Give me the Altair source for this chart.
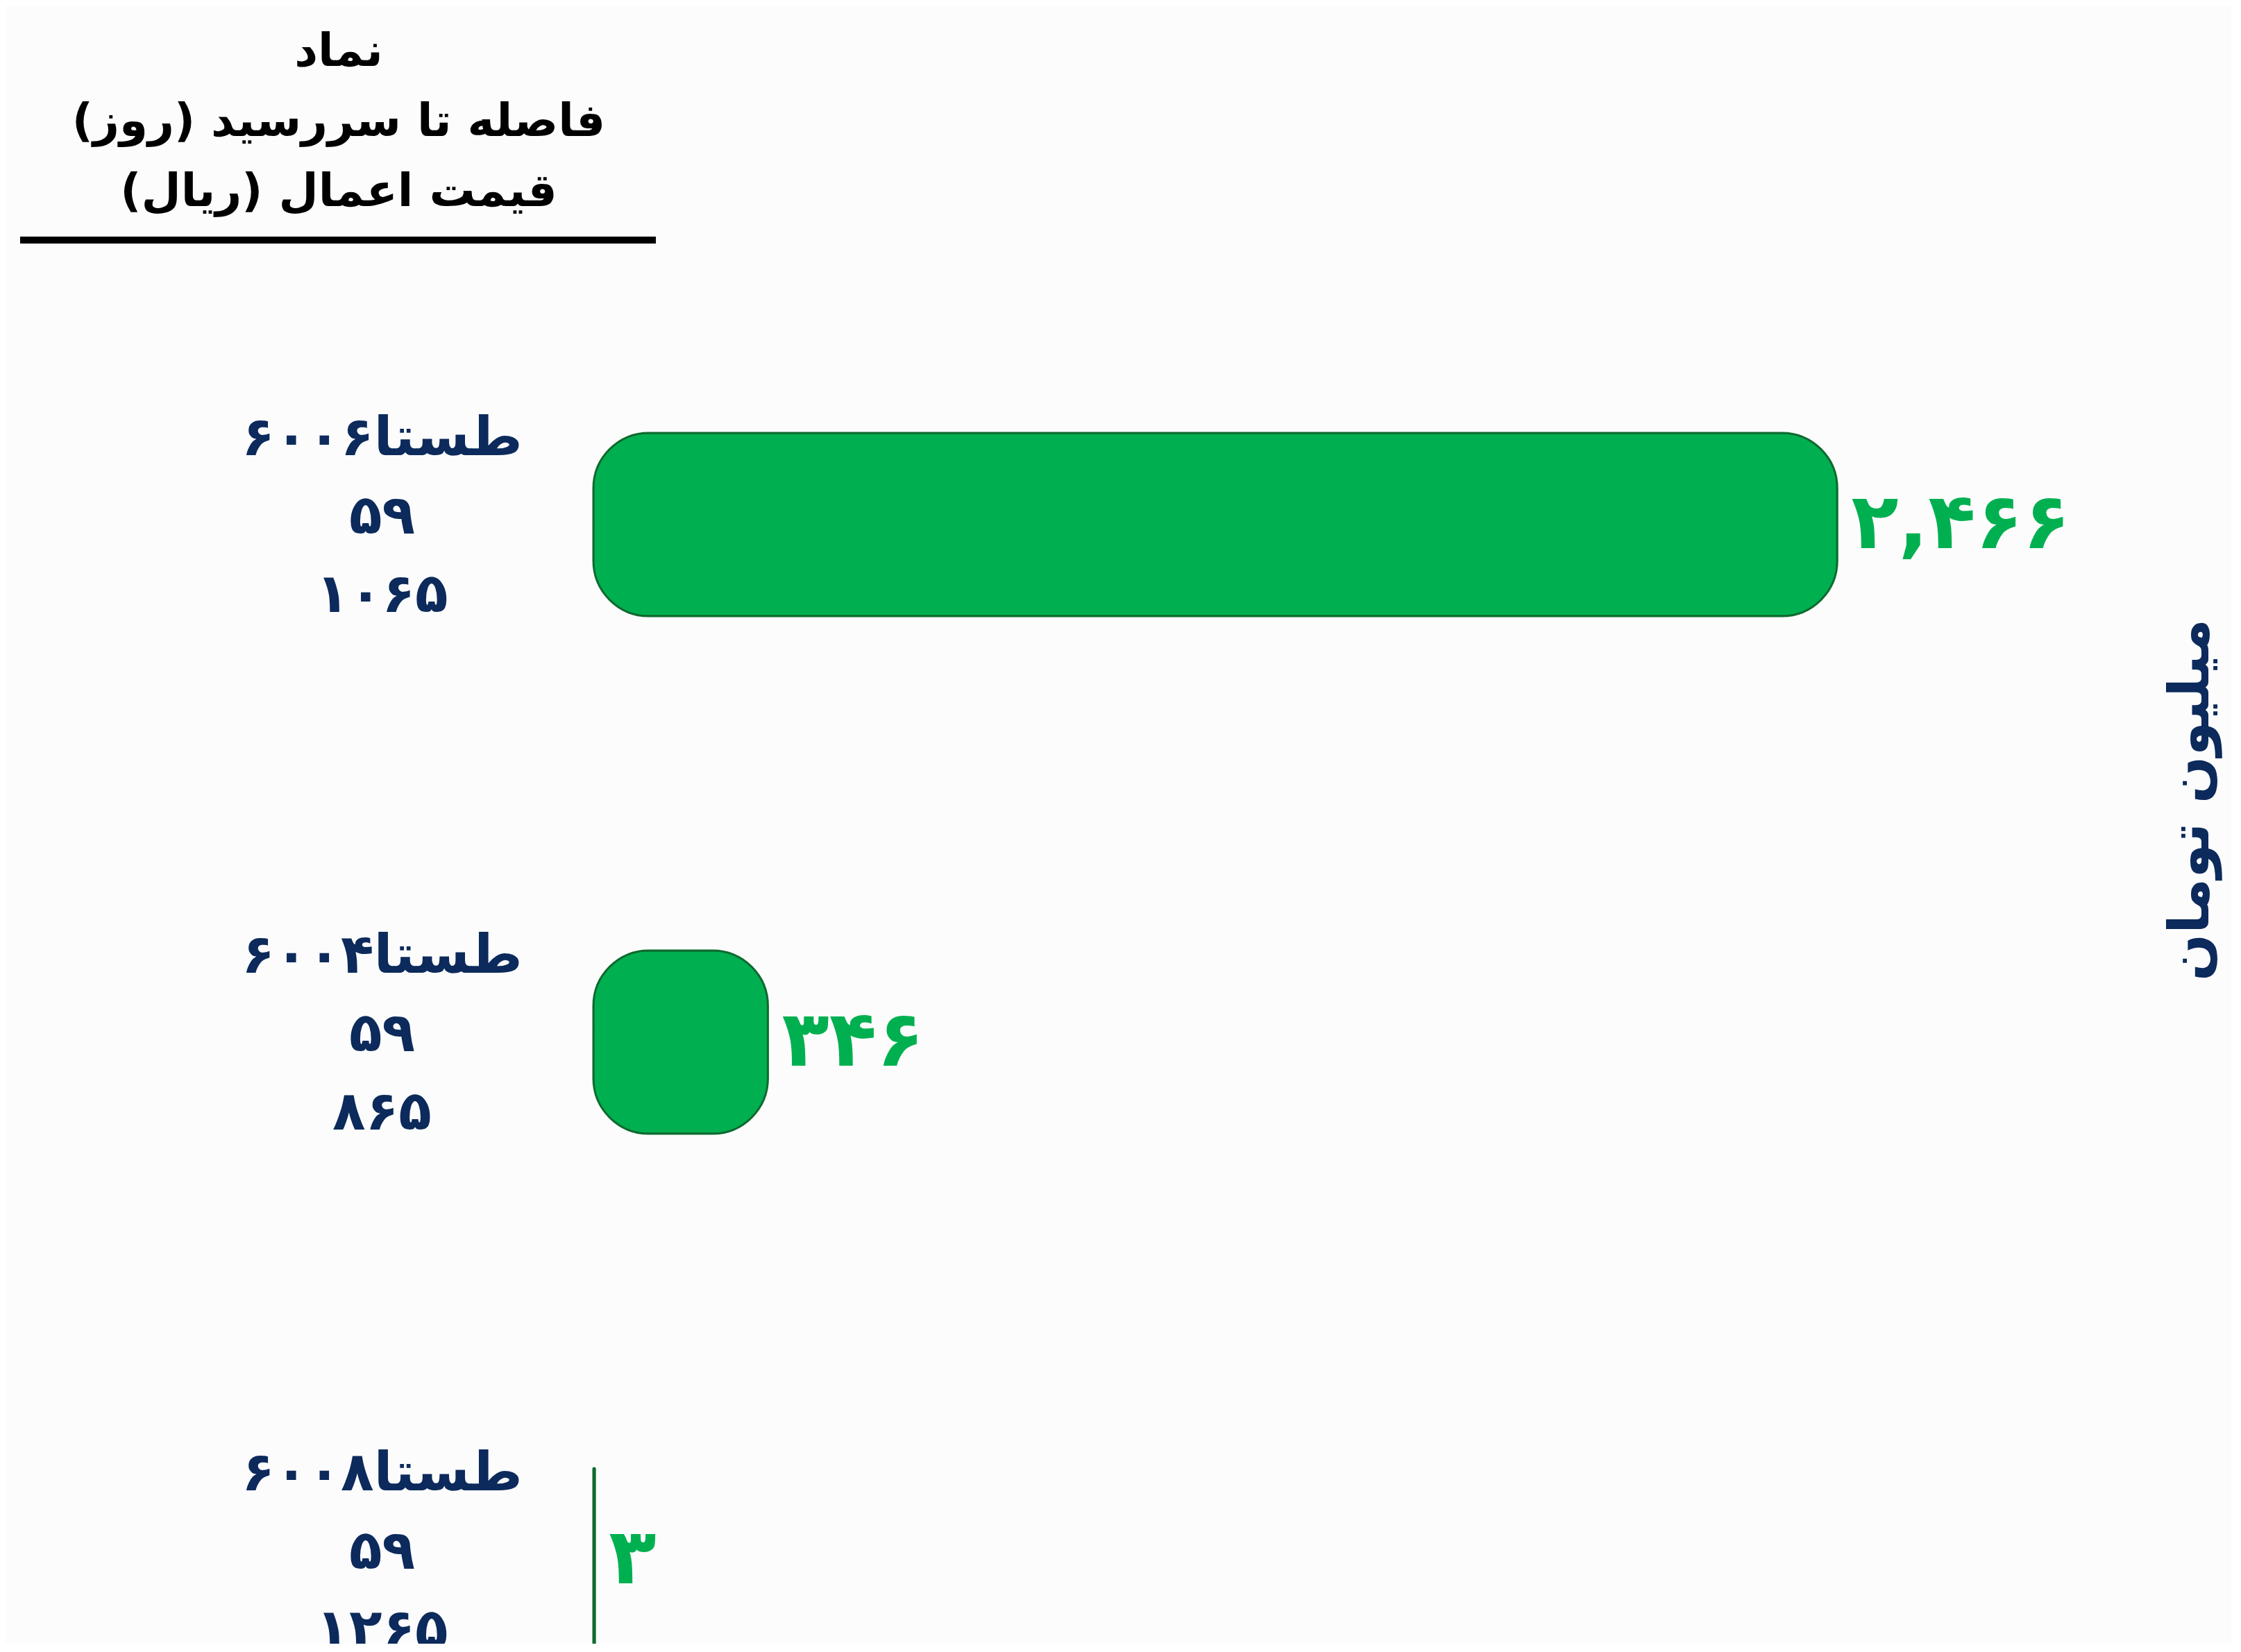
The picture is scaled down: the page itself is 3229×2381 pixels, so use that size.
import altair as alt
import pandas as pd

# ---- data ----
symbols = ["طستا۶۰۰۶", "طستا۶۰۰۴", "طستا۶۰۰۸"]
days = ["۵۹", "۵۹", "۵۹"]
strikes = ["۱۰۶۵", "۸۶۵", "۱۲۶۵"]
values = [2466, 346, 3]
header_lines = ["نماد", "فاصله تا سررسید (روز)\u200f", "قیمت اعمال (ریال)\u200f"]
unit_title = "میلیون تومان"

FA = str.maketrans("0123456789", "۰۱۲۳۴۵۶۷۸۹")
value_labels = [f"{v:,}".translate(FA) for v in values]
cats = [f"{s}|{d}|{k}" for s, d, k in zip(symbols, days, strikes)]
df = pd.DataFrame({"cat": cats, "value": values, "label": value_labels})

NAVY = "#0c2a5b"
GREEN = "#00b050"
FONT = "DejaVu Sans"

W, H = 2160, 1986
XMAX = 2972

y_enc = alt.Y(
    "cat:N",
    sort=cats,
    scale=alt.Scale(domain=cats, range=[0, 2238], paddingInner=0.646, paddingOuter=0.323),
    axis=alt.Axis(
        title=None,
        labelExpr="split(datum.value, '|')",
        labelAlign="center",
        labelBaseline="middle",
        labelPadding=305,
        labelFontSize=78,
        labelLineHeight=113,
        labelFont=FONT,
        labelFontWeight="bold",
        labelColor=NAVY,
        labelLimit=2000,
        labelOffset=-123,
        ticks=False,
        domain=False,
        grid=False,
    ),
)
x_enc = alt.X("value:Q", scale=alt.Scale(domain=[0, XMAX]), axis=None)

base = alt.Chart(df)

bars = base.mark_bar(
    color=GREEN, stroke="#0f6a2f", strokeWidth=3, cornerRadius=80
).encode(x=x_enc, y=y_enc)

vals = base.mark_text(
    align="left", baseline="middle", dx=20, fontSize=112, font=FONT,
    fontWeight="bold", color=GREEN
).encode(x=x_enc, y=y_enc, text="label:N")

one = pd.DataFrame({"k": [0]})

header = alt.Chart(one).mark_text(
    text=header_lines, align="center", baseline="middle", fontSize=66,
    font=FONT, fontWeight="bold", color="black", lineHeight=101
).encode(x=alt.value(488 - 855), y=alt.value(75 - 383))

underline = alt.Chart(one).mark_rule(color="black", strokeWidth=10).encode(
    x=alt.value(29 - 855), x2=alt.value(945 - 855), y=alt.value(346 - 383)
)

unit = alt.Chart(one).mark_text(
    text=unit_title, angle=270, align="center", baseline="middle",
    fontSize=80, font=FONT, fontWeight="bold", color=NAVY
).encode(x=alt.value(3158 - 855), y=alt.value(1153 - 383))

chart = alt.layer(bars, vals, header, underline, unit).properties(
    width=W, height=H,
    autosize=alt.AutoSizeParams(type="none"),
    padding={"left": 847, "top": 375, "right": 200, "bottom": 0},
    background="#fcfcfd",
).configure_view(stroke=None)

chart.save("out.html", embed_options={"renderer": "svg", "actions": False})
